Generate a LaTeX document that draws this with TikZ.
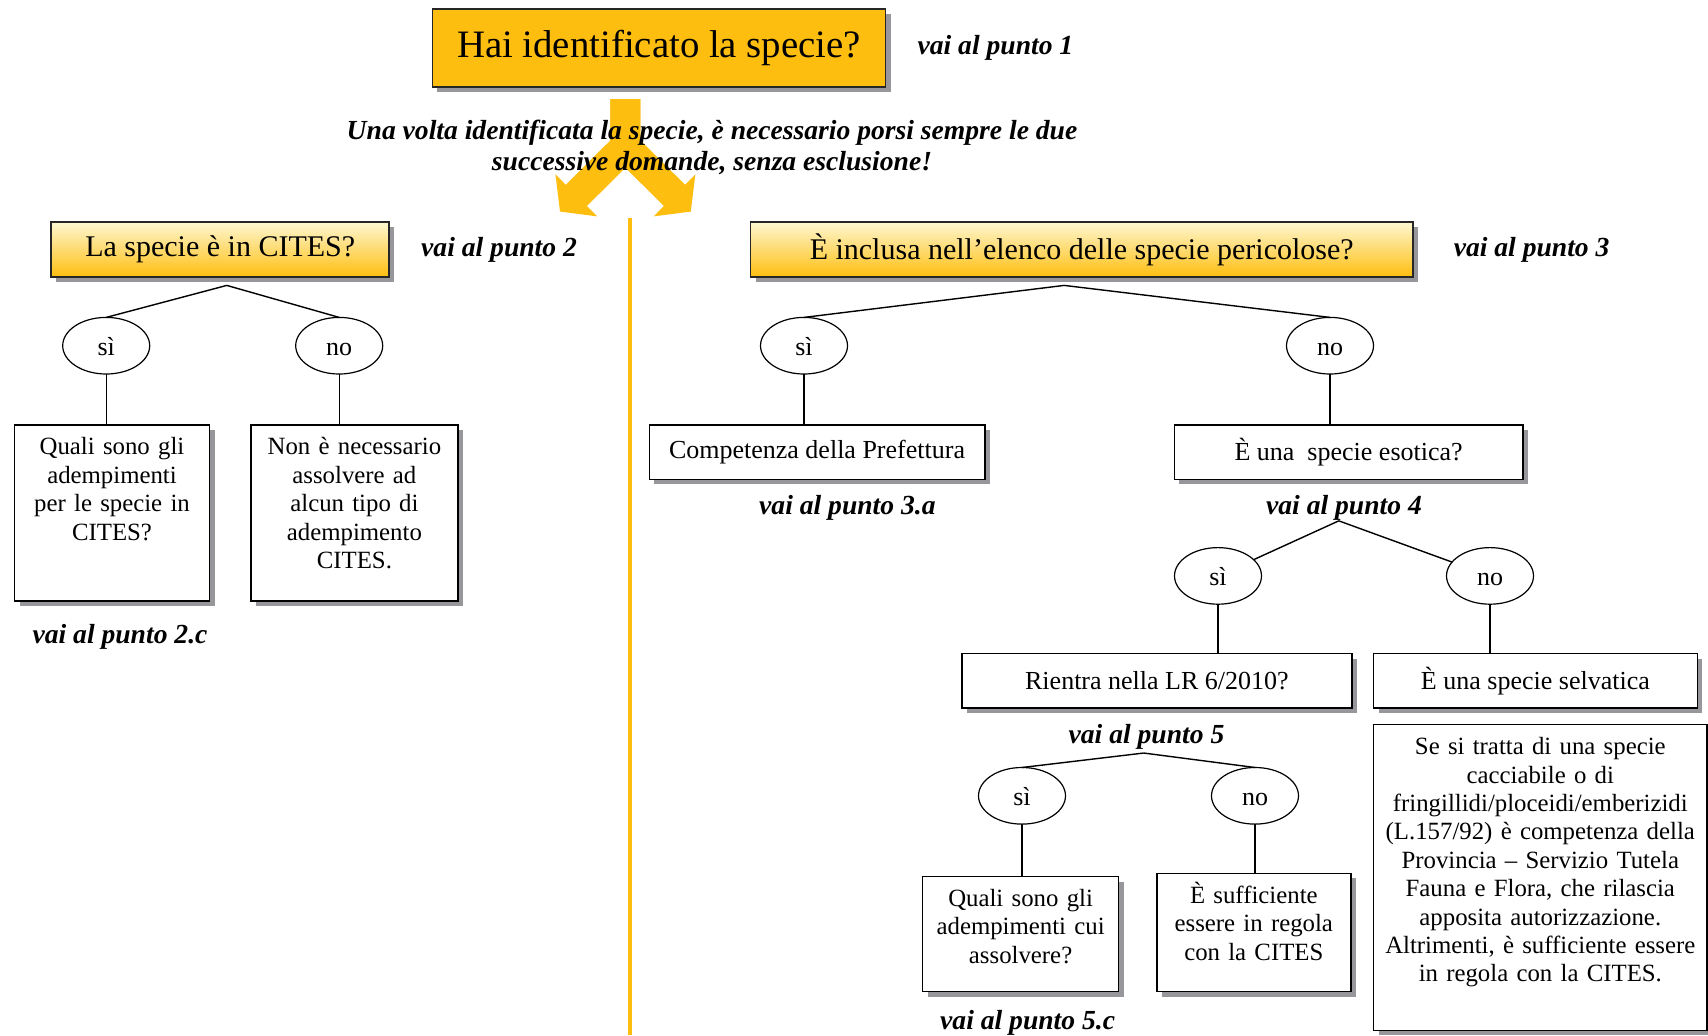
\documentclass[tikz,border=0pt]{standalone}
\usepackage{fontspec}
\setmainfont{Liberation Serif}
\usepackage{tikz}
\usetikzlibrary{shapes.geometric, arrows.meta, positioning, shadows}

\definecolor{gold}{RGB}{253,190,16}
\definecolor{goldlight}{RGB}{255,247,208}
\definecolor{shadowgray}{RGB}{150,150,155}

\tikzstyle{boxshadow} = [drop shadow={shadow xshift=2.5pt, shadow yshift=-2.5pt, fill=shadowgray, opacity=1}]
\tikzstyle{titlebox} = [rectangle, draw=black!85, fill=gold, line width=0.8pt, minimum width=226.6pt, minimum height=39.2pt, text centered, font=\fontsize{19.4}{22}\selectfont, boxshadow]
\tikzstyle{headbox} = [rectangle, draw=black!85, top color=goldlight, bottom color=gold, line width=0.8pt, minimum height=27.3pt, text centered, font=\fontsize{15}{18}\selectfont, boxshadow]
\tikzstyle{answer} = [ellipse, draw=black, line width=0.6pt, minimum width=43.5pt, minimum height=28.3pt, inner sep=0pt, text height=10pt, text depth=0pt, font=\fontsize{13}{15}\selectfont]
\tikzstyle{linebox} = [rectangle, draw=black, fill=white, line width=0.7pt, minimum height=27.2pt, text centered, font=\fontsize{13}{15}\selectfont, boxshadow]
\tikzstyle{textbox} = [rectangle, draw=black, fill=white, line width=0.7pt, inner xsep=4pt, inner ysep=5pt, text height=10pt, align=center, font=\fontsize{12.4}{14.2}\selectfont, boxshadow]
\tikzstyle{goto} = [inner sep=0pt, font=\fontsize{13.8}{15.3}\selectfont\bfseries\itshape]
\tikzstyle{link} = [line width=0.7pt]
\tikzstyle{fork} = [color=gold, line width=15pt, -{Triangle[width=29pt, length=11.5pt]}]
\tikzstyle{divider} = [color=gold, line width=2.2pt]

\begin{document}
\begin{tikzpicture}[x=1pt, y=-1pt, every node/.append style={outer sep=0pt}]

	\useasboundingbox (0,0) rectangle (854,517.5);

	\node (title) [titlebox] at (329.5,24) {Hai identificato la specie?};
	\node (vai1) [goto, right = 16pt of title] {vai al punto 1};

	\coordinate (stem) at ([xshift=-16.8pt, yshift=-6pt]title.south);
	\coordinate (split) at ([yshift=-23.7pt]stem);
	\coordinate (tipL) at ([shift={(-32.7pt,-32.5pt)}]split);
	\coordinate (tipR) at ([shift={(32.7pt,-32.5pt)}]split);
	\draw [fork] (stem) -- (split) -- (tipL);
	\draw [fork] (stem) -- (split) -- (tipR);

	\node (note) [goto, align=center, below = 16.5pt of title, xshift=26.5pt] {Una volta identificata la specie, è necessario porsi sempre le due\\successive domande, senza esclusione!};

	\coordinate (divtop) at (315,109);
	\coordinate (divbot) at (315,517.5);
	\draw [divider] (divtop) -- (divbot);

	% CITES
	\node (cites) [headbox, minimum width=169pt, below left = 67.5pt and 21.6pt of title] {La specie è in CITES?};
	\node (vai2) [goto, right = 16pt of cites] {vai al punto 2};

	\node (si1) [answer, below = 20.3pt of cites, xshift=-57pt] {sì};
	\node (no1) [answer, below = 20.3pt of cites, xshift=59.5pt] {no};

	\node (qcites) [textbox, text width=89.5pt, text depth=68pt, below = 25.4pt of si1, xshift=2.9pt] {Quali sono gli\\adempimenti\\per le specie in\\CITES?};
	\node (nocites) [textbox, text width=95.5pt, text depth=68pt, below = 25.4pt of no1, xshift=7.6pt] {Non è necessario\\assolvere ad\\alcun tipo di\\adempimento\\CITES.};
	\node (vai2c) [goto, below = 12pt of qcites, xshift=4pt] {vai al punto 2.c};

	\coordinate (apex1) at ([xshift=3.3pt, yshift=-4.3pt]cites.south);
	\draw [link] (apex1) -- (si1.north);
	\draw [link] (apex1) -- (no1.north);
	\draw [link] (si1.south) -- (si1.south |- qcites.north);
	\draw [link] (no1.south) -- (no1.south |- nocites.north);

	% specie pericolose
	\node (peric) [headbox, minimum width=331.1pt, right = 180.7pt of cites] {È inclusa nell’elenco delle specie pericolose?};
	\node (vai3) [goto, right = 20.5pt of peric] {vai al punto 3};

	\node (si2) [answer, below = 20.3pt of peric, xshift=-138.85pt] {sì};
	\node (no2) [answer, below = 20.3pt of peric, xshift=124.15pt] {no};

	\node (pref) [linebox, minimum width=167.8pt, below = 25.4pt of si2, xshift=6.5pt] {Competenza della Prefettura};
	\node (esotica) [linebox, minimum width=174.3pt, below = 25.4pt of no2, xshift=9.3pt] {È una\ \ specie esotica?};
	\node (vai3a) [goto, below = 8.3pt of pref, xshift=15.2pt] {vai al punto 3.a};
	\node (vai4) [goto, below = 8.3pt of esotica, xshift=-2.3pt] {vai al punto 4};

	\coordinate (apex2) at ([xshift=-8.75pt, yshift=-4.3pt]peric.south);
	\draw [link] (apex2) -- (si2.north);
	\draw [link] (apex2) -- (no2.north);
	\draw [link] (si2.south) -- (si2.south |- pref.north);
	\draw [link] (no2.south) -- (no2.south |- esotica.north);

	% specie esotica
	\node (si3) [answer, below = 34.2pt of esotica, xshift=-65.3pt] {sì};
	\node (no3) [answer, below = 34.2pt of esotica, xshift=70.7pt] {no};

	\node (lr) [linebox, minimum width=194.9pt, below = 24.7pt of si3, xshift=-30.55pt] {Rientra nella LR 6/2010?};
	\node (selv) [linebox, minimum width=161.8pt, below = 24.7pt of no3, xshift=22.7pt] {È una specie selvatica};
	\node (vai5) [goto, below = 8pt of lr, xshift=-5.2pt] {vai al punto 5};
	\node (wild) [textbox, inner xsep=3pt, text width=160.7pt, text height=10.2pt, text depth=132.8pt, below = 8.1pt of selv, xshift=2.45pt] {Se si tratta di una specie\\cacciabile o di\\fringillidi/ploceidi/emberizidi\\(L.157/92) è competenza della\\Provincia – Servizio Tutela\\Fauna e Flora, che rilascia\\apposita autorizzazione.\\Altrimenti, è sufficiente essere\\in regola con la CITES.};

	\coordinate (apex4) at ([xshift=-2.6pt]vai4.south);
	\draw [link] (apex4) -- (si3);
	\draw [link] (apex4) -- (no3);
	\draw [link] (si3.south) -- (si3.south |- lr.north);
	\draw [link] (no3.south) -- (no3.south |- selv.north);

	% LR 6/2010
	\node (si4) [answer, below = 29.75pt of lr, xshift=-67.45pt] {sì};
	\node (no4) [answer, below = 29.75pt of lr, xshift=49.05pt] {no};

	\node (qlr) [textbox, text width=90pt, text depth=37.6pt, below = 26.2pt of si4, xshift=-0.7pt] {Quali sono gli\\adempimenti cui\\assolvere?};
	\node (suff) [textbox, text width=89pt, text depth=39.1pt, below = 24.6pt of no4, xshift=-0.6pt] {È sufficiente\\essere in regola\\con la CITES};
	\node (vai5c) [goto, below = 9.4pt of qlr, xshift=3.5pt] {vai al punto 5.c};

	\coordinate (apex5) at ([xshift=-1.4pt, yshift=-2pt]vai5.south);
	\draw [link] (apex5) -- (si4.north);
	\draw [link] (apex5) -- (no4.north);
	\draw [link] (si4.south) -- (si4.south |- qlr.north);
	\draw [link] (no4.south) -- (no4.south |- suff.north);

\end{tikzpicture}
\end{document}
